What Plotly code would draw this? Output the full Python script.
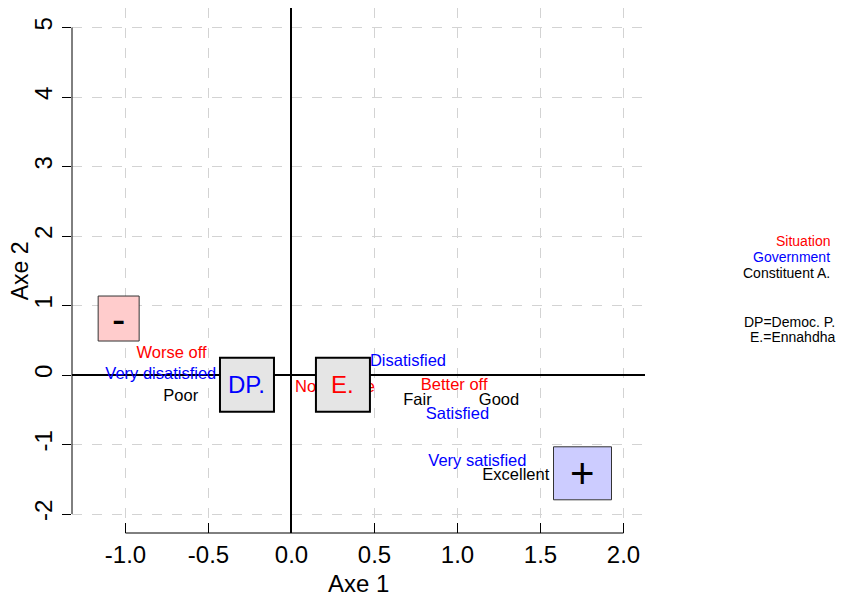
import plotly.graph_objects as go

# ---- data ----
x_ticks = [-1.0, -0.5, 0.0, 0.5, 1.0, 1.5, 2.0]
x_ticktext = ["-1.0", "-0.5", "0.0", "0.5", "1.0", "1.5", "2.0"]
y_ticks = [-2, -1, 0, 1, 2, 3, 4, 5]
y_ticktext = ["-2", "-1", "0", "1", "2", "3", "4", "5"]

situation_labels = ["Worse off", "No change", "Better off"]
situation_x = [-0.722, 0.262, 0.980]
situation_y = [0.310, -0.185, -0.155]

government_labels = ["Very disatisfied", "Disatisfied", "Satisfied", "Very satisfied"]
government_x = [-0.787, 0.702, 1.000, 1.120]
government_y = [0.008, 0.188, -0.578, -1.245]

constituent_labels = ["Poor", "Fair", "Good", "Excellent"]
constituent_x = [-0.667, 0.759, 1.250, 1.351]
constituent_y = [-0.317, -0.365, -0.365, -1.455]

box_labels = ["-", "DP.", "E.", "+"]
box_x = [-1.041, -0.268, 0.310, 1.753]
box_y = [0.813, -0.140, -0.140, -1.414]

legend_lines = ["Situation", "Government", "Constituent A."]
note_lines = ["DP=Democ. P.", "E.=Ennahdha"]

# ---- styles ----
FONT = "Liberation Sans, Arial, sans-serif"
box_style = [
    dict(fill="#FFCCCC", text="black", w=41, h=45, lw=1, lc="#333333", fs=40),
    dict(fill="#E5E5E5", text="blue", w=54, h=54, lw=2, lc="black", fs=24),
    dict(fill="#E5E5E5", text="red", w=54, h=54, lw=2, lc="black", fs=24),
    dict(fill="#CCCCFF", text="black", w=58, h=53, lw=1, lc="#333333", fs=42),
]

fig = go.Figure()

for labels, xs, ys, col in [
    (situation_labels, situation_x, situation_y, "red"),
    (government_labels, government_x, government_y, "blue"),
    (constituent_labels, constituent_x, constituent_y, "black"),
]:
    fig.add_trace(go.Scatter(
        x=xs, y=ys, mode="text", text=labels, textposition="middle center",
        textfont=dict(family=FONT, size=16.5, color=col),
        cliponaxis=False, showlegend=False, hoverinfo="skip"))

shapes = []
annotations = []
for lab, bx, by, st in zip(box_labels, box_x, box_y, box_style):
    shapes.append(dict(
        type="rect", xref="x", yref="y", layer="above",
        xsizemode="pixel", ysizemode="pixel", xanchor=bx, yanchor=by,
        x0=-st["w"] / 2, x1=st["w"] / 2, y0=-st["h"] / 2, y1=st["h"] / 2,
        fillcolor=st["fill"], line=dict(color=st["lc"], width=st["lw"])))
    annotations.append(dict(text=lab, x=bx, y=by, xref="x", yref="y",
                            xanchor="center", yanchor="middle", showarrow=False,
                            font=dict(family=FONT, size=st["fs"], color=st["text"])))

# R-style axis lines spanning only the tick range
shapes.append(dict(type="line", xref="x", yref="paper", x0=x_ticks[0], x1=x_ticks[-1],
                   y0=0, y1=0, line=dict(color="black", width=1), layer="above"))
shapes.append(dict(type="line", xref="paper", yref="y", x0=0, x1=0,
                   y0=y_ticks[0], y1=y_ticks[-1], line=dict(color="black", width=1), layer="above"))

leg_cols = ["red", "blue", "black"]
leg_y = [0.5568, 0.5251, 0.4947]
for t, c, yy in zip(legend_lines, leg_cols, leg_y):
    annotations.append(dict(text=t, xref="paper", yref="paper", x=1.323, y=yy,
                            xanchor="right", yanchor="middle", showarrow=False,
                            borderpad=0, borderwidth=0,
                            font=dict(family=FONT, size=14, color=c)))
note_y = [0.4025, 0.3739]
for t, yy in zip(note_lines, note_y):
    annotations.append(dict(text=t, xref="paper", yref="paper", x=1.331, y=yy,
                            xanchor="right", yanchor="middle", showarrow=False,
                            borderpad=0, borderwidth=0,
                            font=dict(family=FONT, size=14, color="black")))

# axis titles
annotations.append(dict(text="Axe 1", xref="paper", yref="paper", x=0.5, y=-0.0971,
                        xanchor="center", yanchor="middle", showarrow=False,
                        font=dict(family=FONT, size=24, color="black")))
annotations.append(dict(text="Axe 2", xref="paper", yref="paper", x=-0.091, y=0.5,
                        xanchor="center", yanchor="middle", showarrow=False, textangle=-90,
                        borderpad=0, borderwidth=0,
                        font=dict(family=FONT, size=23, color="black")))

grid = dict(showgrid=True, gridcolor="#D3D3D3", gridwidth=1, griddash="10px,10px",
            zeroline=True, zerolinecolor="black", zerolinewidth=2, showline=False,
            automargin=False,
            tickcolor="black", tickwidth=1, tickfont=dict(family=FONT, size=24, color="black"))

# page body has an 8px margin, so the figure is 8px smaller and the margins offset
fig.update_layout(
    width=836, height=589,
    margin=dict(l=64, r=199, t=0, b=64, autoexpand=False),
    paper_bgcolor="white", plot_bgcolor="white",
    font=dict(family=FONT, color="black"),
    showlegend=False,
    shapes=shapes, annotations=annotations,
    xaxis=dict(range=[-1.322, 2.1295], tickvals=x_ticks, ticktext=x_ticktext,
               ticks="inside", ticklen=10, ticklabelstandoff=5, **grid),
    yaxis=dict(range=[-2.273, 5.281], tickvals=y_ticks, ticktext=y_ticktext,
               ticks="outside", ticklen=9, tickangle=-90, **grid),
)

fig.write_html("out.html")
